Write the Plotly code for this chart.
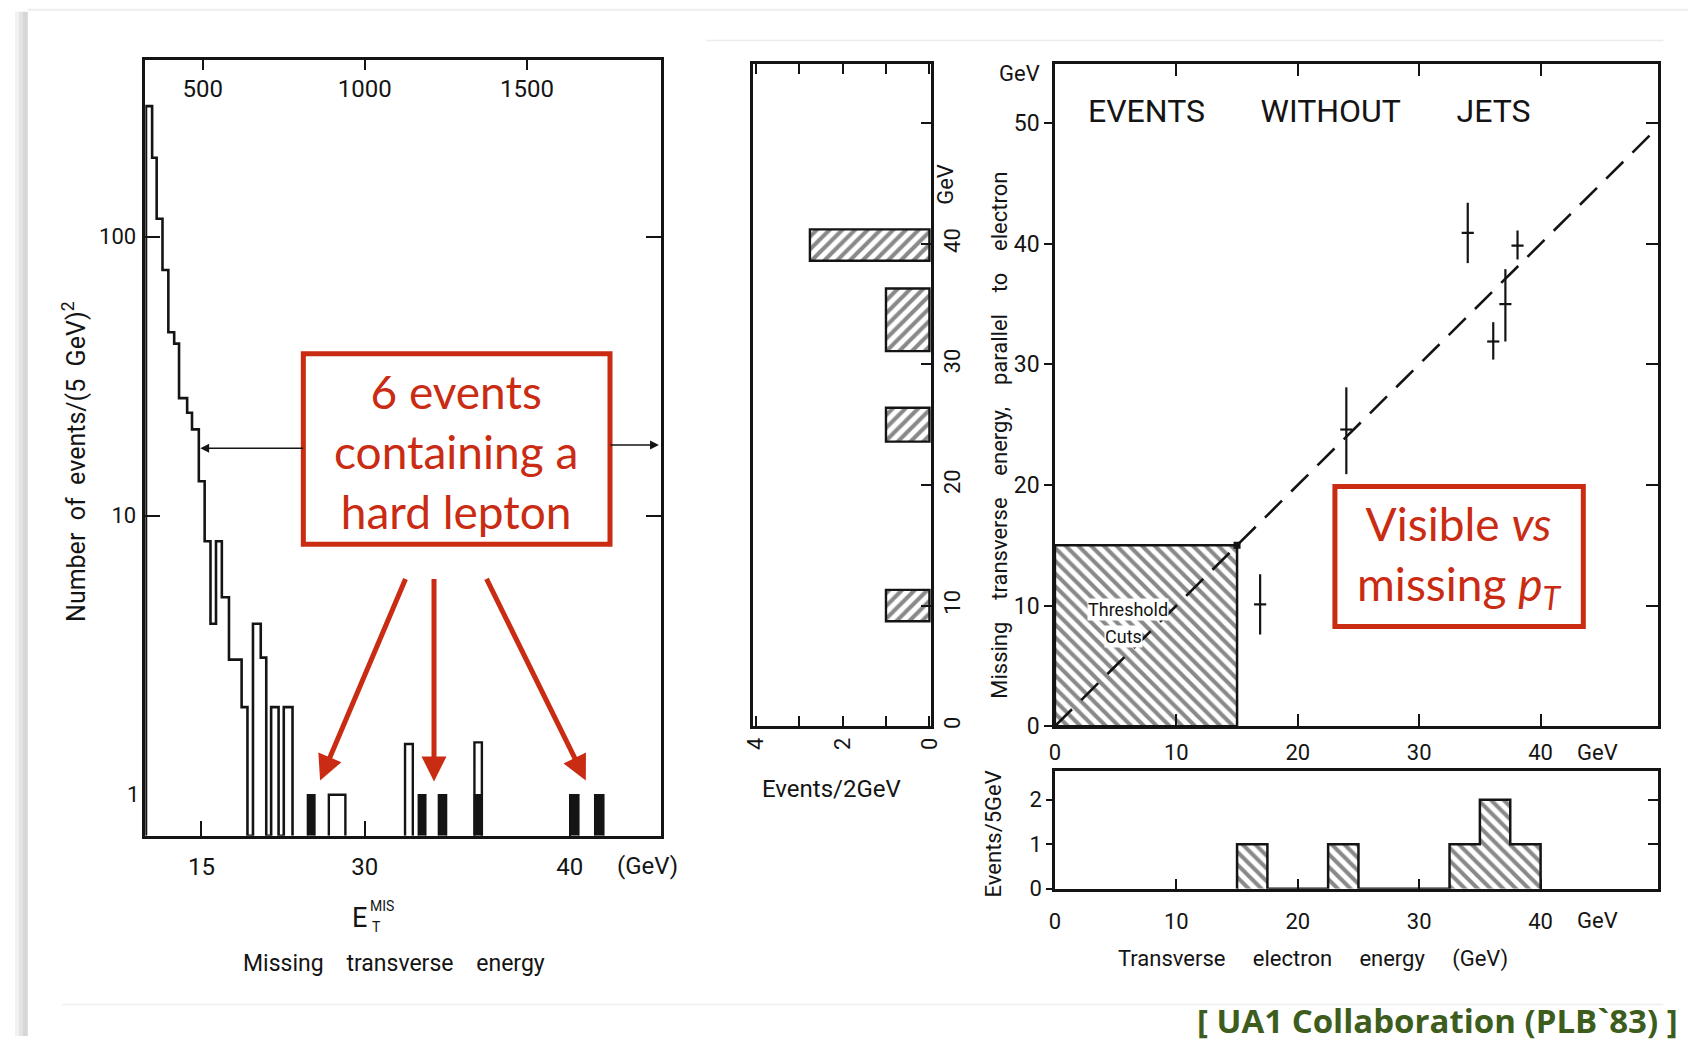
import plotly.graph_objects as go

W, H = 1698, 1050
FONT = "Roboto, Liberation Sans, sans-serif"
SLIDE_FONT = "Lato, Open Sans, sans-serif"
RED = "#c92c12"
INK = "#141414"

# ---------------- missing transverse energy spectrum (left) ----------------
# horizontal position in units of the top (500/1000/1500) scale
miss_edges = [325, 344, 358, 376, 394, 412, 427, 452, 467, 488, 506, 524, 541,
              559, 581, 620, 638, 655, 679, 696, 711, 734, 750, 777]
miss_counts = [294, 192, 116, 76, 45.5, 41.4, 26.4, 23.4, 20.4, 13.3, 8.1, 4.1,
               8.1, 5.1, 3.05, 2.06, 0, 4.1, 3.1, 0, 2.06, 0, 2.06]
tail_lo = [889, 1124, 1338]
tail_hi = [940, 1148, 1361]
tail_counts = [1, 1.52, 1.54]
lepton_lo = [823, 1165, 1227, 1338, 1632, 1709]
lepton_hi = [846, 1188, 1252, 1361, 1660, 1737]
lepton_counts = [1, 1, 1, 1, 1, 1]
top_ticks = [500, 1000, 1500]
et_tick_pos = [496, 1000, 1632]
et_tick_text = ["15", "30", "40"]
count_ticks = [10, 100]

# ---------------- events without jets (right) ----------------
ele_et = [16.9, 24.0, 34.0, 36.1, 37.1, 38.1]
miss_par = [10.1, 24.6, 40.9, 31.9, 35.0, 39.85]
err_up = [2.5, 3.5, 2.5, 1.6, 2.9, 1.25]
err_dn = [2.5, 3.7, 2.5, 1.5, 3.1, 1.15]
cut_et = 15
cut_miss = 15
diag_end = 50

# projection on the missing-energy axis (middle)
proj_lo = [8.7, 23.6, 31.1, 38.6]
proj_hi = [11.3, 26.4, 36.3, 41.2]
proj_counts = [1, 1, 1, 2.75]

# electron transverse energy distribution (bottom)
ele_edges = [15, 17.5, 22.5, 25, 32.5, 35, 37.5, 40]
ele_counts = [1, 0, 1, 0, 1, 2, 1]

gev_ticks = [0, 10, 20, 30, 40]
miss_ticks = [0, 10, 20, 30, 40, 50]

HATCH = dict(fgcolor=INK, bgcolor="white", size=9, solidity=0.45)


def fx(px):
    return px / W


def fy(py):
    return 1 - py / H


def sp(n):
    return "\u00a0" * n


def step_path(edges, counts, floor):
    xs, ys = [edges[0]], [floor]
    for i, c in enumerate(counts):
        v = c if c > 0 else floor
        xs += [edges[i], edges[i + 1]]
        ys += [v, v]
    xs.append(edges[-1])
    ys.append(floor)
    return xs, ys


def bars_path(lo, hi, counts, floor):
    xs, ys = [], []
    for a, b, c in zip(lo, hi, counts):
        px, py = step_path([a, b], [c], floor)
        xs += px + [None]
        ys += py + [None]
    return xs, ys


LOG_LO, LOG_HI = -0.147, 2.633
floor = 10 ** LOG_LO

fig = go.Figure()

# left panel: open outline of all events
hx, hy = step_path(miss_edges, miss_counts, floor)
fig.add_trace(go.Scatter(x=hx, y=hy, mode="lines", line=dict(color=INK, width=2.6),
                         xaxis="x", yaxis="y", hoverinfo="skip"))
tx, ty = bars_path(tail_lo, tail_hi, tail_counts, floor)
fig.add_trace(go.Scatter(x=tx, y=ty, mode="lines", line=dict(color=INK, width=2.4),
                         xaxis="x", yaxis="y", hoverinfo="skip"))
# events with a hard lepton, filled black
lx, ly = bars_path(lepton_lo, lepton_hi, lepton_counts, floor)
fig.add_trace(go.Scatter(x=lx, y=ly, mode="lines", fill="toself", fillcolor=INK,
                         line=dict(color=INK, width=1.5), xaxis="x", yaxis="y",
                         hoverinfo="skip"))
fig.add_trace(go.Scatter(x=[], y=[], xaxis="x5", yaxis="y", hoverinfo="skip"))

# main scatter panel: threshold region
fig.add_trace(go.Scatter(
    x=[0, cut_et, cut_et, 0, 0], y=[0, 0, cut_miss, cut_miss, 0],
    mode="lines", fill="toself", fillcolor="white",
    fillpattern=dict(HATCH, shape="\\"),
    line=dict(color=INK, width=2.5), xaxis="x2", yaxis="y2", hoverinfo="skip"))
fig.add_trace(go.Scatter(x=[0, diag_end], y=[0, diag_end], mode="lines",
                         line=dict(color=INK, width=2.6, dash="24px,13px"),
                         xaxis="x2", yaxis="y2", hoverinfo="skip"))
fig.add_trace(go.Scatter(x=[cut_et], y=[cut_miss], mode="markers",
                         marker=dict(symbol="square", size=7, color=INK),
                         xaxis="x2", yaxis="y2", hoverinfo="skip"))
fig.add_trace(go.Scatter(
    x=ele_et, y=miss_par, mode="markers", marker=dict(size=2, color=INK),
    error_y=dict(type="data", symmetric=False, array=err_up, arrayminus=err_dn,
                 color=INK, thickness=2.2, width=0),
    error_x=dict(type="constant", value=0.5, color=INK, thickness=2.2, width=0),
    xaxis="x2", yaxis="y2", hoverinfo="skip"))
fig.add_trace(go.Scatter(x=[], y=[], xaxis="x2", yaxis="y6", hoverinfo="skip"))

# middle panel: projection on missing energy
proj_mid = [(a + b) / 2 for a, b in zip(proj_lo, proj_hi)]
proj_w = [b - a for a, b in zip(proj_lo, proj_hi)]
fig.add_trace(go.Bar(
    y=proj_mid, x=proj_counts, width=proj_w, base=0, orientation="h",
    marker=dict(color="white", line=dict(color=INK, width=2.4),
                pattern=dict(HATCH, shape="/")),
    xaxis="x3", yaxis="y3", hoverinfo="skip"))

# bottom panel: electron transverse energy
bx, by = step_path(ele_edges, ele_counts, 0)
fig.add_trace(go.Scatter(
    x=bx, y=by, mode="lines", fill="toself", fillcolor="white",
    fillpattern=dict(HATCH, shape="\\"),
    line=dict(color=INK, width=2.5), xaxis="x4", yaxis="y4", hoverinfo="skip"))
fig.add_trace(go.Scatter(x=[], y=[], xaxis="x4", yaxis="y7", hoverinfo="skip"))

base_ax = dict(showgrid=False, zeroline=False, showline=True, linecolor=INK,
               linewidth=2.5, tickcolor=INK, tickwidth=2.2)


def tf(size):
    return dict(family=FONT, size=size, color=INK)


fig.update_layout(
    width=W, height=H, margin=dict(l=0, r=0, t=0, b=0),
    paper_bgcolor="white", plot_bgcolor="rgba(0,0,0,0)", showlegend=False,
    xaxis=dict(base_ax, domain=[fx(136), fx(658)], range=[323, 1913], anchor="y",
               tickmode="array", tickvals=et_tick_pos, ticktext=et_tick_text,
               ticks="inside", ticklen=15, mirror=True, tickfont=tf(24),
               ticklabelstandoff=8),
    xaxis5=dict(base_ax, overlaying="x", side="top", anchor="y", range=[323, 1913],
                showline=False, tickmode="array", tickvals=top_ticks, ticks="inside",
                ticklen=10, ticklabelposition="inside", tickfont=tf(24),
                ticklabelstandoff=12),
    yaxis=dict(base_ax, type="log", domain=[fy(847), fy(61)], range=[LOG_LO, LOG_HI],
               anchor="x", tickmode="array", tickvals=count_ticks,
               ticktext=[str(v) for v in count_ticks], ticks="inside", ticklen=15,
               mirror="ticks", tickfont=tf(22), ticklabelstandoff=2),
    xaxis2=dict(base_ax, domain=[fx(1057), fx(1668)], range=[0, 49.7], anchor="y2",
                tickmode="array", tickvals=gev_ticks, ticks="inside", ticklen=12,
                mirror="ticks", tickfont=tf(22), ticklabelstandoff=5),
    yaxis2=dict(base_ax, domain=[fy(736), fy(65)], range=[0, 54.9], anchor="x2",
                tickmode="array", tickvals=miss_ticks, ticks="outside", ticklen=8,
                mirror=True, tickfont=tf(23)),
    yaxis6=dict(base_ax, overlaying="y2", side="right", anchor="x2", range=[0, 54.9],
                showline=False, tickmode="array", tickvals=miss_ticks[1:],
                ticks="inside", ticklen=12, showticklabels=False),
    xaxis3=dict(base_ax, domain=[fx(751.7), fx(931.7)], range=[4.05, -0.04], anchor="y3",
                tickmode="array", tickvals=[0, 1, 2, 3, 4],
                ticktext=["0", "", "2", "", "4"], ticks="inside", ticklen=10,
                mirror="ticks", tickangle=-90, tickfont=tf(22)),
    yaxis3=dict(base_ax, domain=[fy(736), fy(65)], range=[0, 54.9], anchor="x3",
                side="right", tickmode="array", tickvals=miss_ticks,
                ticktext=["0", "10", "20", "30", "40", ""], ticks="inside",
                ticklen=10, mirror=True, tickangle=-90, tickfont=tf(22),
                ticklabelstandoff=0),
    xaxis4=dict(base_ax, domain=[fx(1057), fx(1668)], range=[0, 49.7], anchor="y4",
                tickmode="array", tickvals=gev_ticks, ticks="inside", ticklen=10,
                mirror=True, tickfont=tf(22), ticklabelstandoff=11),
    yaxis4=dict(base_ax, domain=[fy(900.7), fy(781.7)], range=[0, 2.64], anchor="x4",
                tickmode="array", tickvals=[0, 1, 2], ticks="outside", ticklen=6,
                mirror=True, tickfont=tf(22)),
    yaxis7=dict(base_ax, overlaying="y4", side="right", anchor="x4", range=[0, 2.64],
                showline=False, tickmode="array", tickvals=[1, 2], ticks="inside",
                ticklen=10, showticklabels=False),
)

ann = []


def label(px, py, text, size=22, angle=0, xanchor="center", color=INK, family=FONT, **kw):
    ann.append(dict(x=fx(px), y=fy(py), xref="paper", yref="paper", text=text,
                    showarrow=False, textangle=angle, xanchor=xanchor, yanchor="middle",
                    font=dict(family=family, size=size, color=color), **kw))


# left panel texts
label(124, 805, "1", 22)
label(644, 878, "(GeV)", 24)
label(65, 468, "Number" + sp(2) + "of" + sp(2) + "events/(5" + sp(2) + "GeV)<sup>2</sup>", 25, angle=-90)
label(353, 930, "E", 27)
label(376, 918, "MIS", 14)
label(370, 940, "T", 14)
label(388, 977, "Missing" + sp(4) + "transverse" + sp(4) + "energy", 23)

# middle panel texts
label(831, 800, "Events/2GeV", 24)
label(946, 187, "GeV", 22, angle=-90)

# main panel texts
label(1021, 75, "GeV", 22)
label(1088, 113, "EVENTS" + sp(7) + "WITHOUT" + sp(7) + "JETS", 32, xanchor="left")
label(1000, 441, "Missing" + sp(4) + "transverse" + sp(4) + "energy," + sp(4) + "parallel"
      + sp(4) + "to" + sp(4) + "electron", 22, angle=-90)
label(1606, 763, "GeV", 22)
ann.append(dict(x=6.0, y=9.7, xref="x2", yref="y2", text="Threshold", showarrow=False,
                bgcolor="white", borderpad=0, font=dict(family=FONT, size=18, color=INK)))
ann.append(dict(x=5.65, y=7.4, xref="x2", yref="y2", text="Cuts", showarrow=False,
                bgcolor="white", borderpad=0, font=dict(family=FONT, size=18, color=INK)))

# bottom panel texts
label(1606, 933, "GeV", 22)
label(1318, 972, "Transverse" + sp(5) + "electron" + sp(5) + "energy" + sp(5) + "(GeV)", 22)
label(995, 845, "Events/5GeV", 22, angle=-90)

# slide annotations
label(451, 458, "6 events<br>containing a<br>hard lepton", 46, color=RED, family=SLIDE_FONT)
label(1466, 564, "Visible <i>vs</i><br>missing <i>p<sub>T</sub></i>", 46, color=RED, family=SLIDE_FONT)
label(1690, 1034, "<b>[ UA1 Collaboration (PLB`83) ]</b>", 33, xanchor="right",
      color="#3d5d1d", family="Open Sans, Lato, sans-serif")


def arrow(tip, tail, color, width, size, head=2):
    ann.append(dict(x=fx(tip[0]), y=fy(tip[1]), xref="paper", yref="paper", text="",
                    showarrow=True, arrowhead=head, arrowsize=size, arrowwidth=width,
                    arrowcolor=color, ax=tail[0] - tip[0], ay=tail[1] - tip[1]))


arrow((191.7, 454.3), (296, 454.3), INK, 1.6, 1.1)
arrow((656, 451), (606, 451), INK, 1.6, 1.1)
arrow((313, 791), (399, 588), RED, 5, 1.0)
arrow((428.3, 792), (428.3, 588), RED, 5, 1.0)
arrow((582, 791), (482, 588), RED, 5, 1.0)

fig.update_layout(annotations=ann)

shapes = []
# page edge shading
for x0, x1, c in [(4, 8, "#f2f2f2"), (8, 12, "#e3e3e3"), (12, 17, "#d6d6d6")]:
    shapes.append(dict(type="rect", xref="paper", yref="paper", x0=fx(x0), x1=fx(x1),
                       y0=0, y1=fy(12), fillcolor=c, line=dict(width=0), layer="below"))
shapes.append(dict(type="line", xref="paper", yref="paper", x0=fx(17), x1=1,
                   y0=fy(10), y1=fy(10), line=dict(color="#eeeeee", width=2), layer="below"))
shapes.append(dict(type="line", xref="paper", yref="paper", x0=fx(704), x1=fx(1673),
                   y0=fy(41), y1=fy(41), line=dict(color="#ececec", width=1.5), layer="below"))
shapes.append(dict(type="line", xref="paper", yref="paper", x0=fx(52), x1=fx(1673),
                   y0=fy(1018), y1=fy(1018), line=dict(color="#ededed", width=1.5), layer="below"))
# callout boxes
shapes.append(dict(type="rect", xref="paper", yref="paper", x0=fx(296), x1=fx(606.5),
                   y0=fy(551.5), y1=fy(358.5), line=dict(color=RED, width=5), fillcolor="white"))
shapes.append(dict(type="rect", xref="paper", yref="paper", x0=fx(1340.5), x1=fx(1592),
                   y0=fy(635), y1=fy(493), line=dict(color=RED, width=5), fillcolor="white"))
fig.update_layout(shapes=shapes)

fig.write_html("out.html")
